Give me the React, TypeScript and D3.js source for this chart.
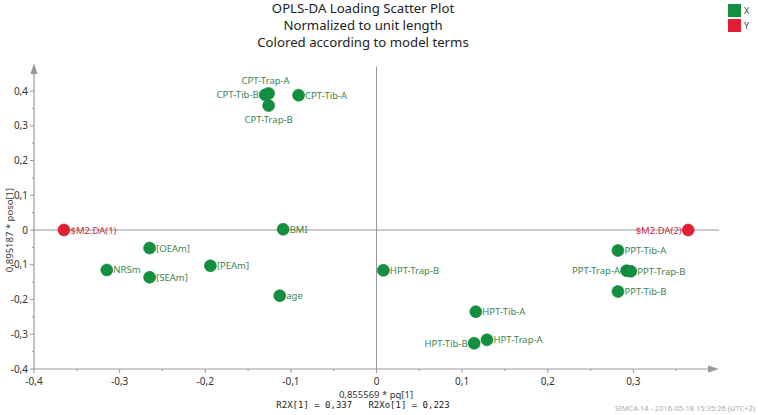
import React from 'react'
import * as d3 from 'd3'

// loading values: p[1] (scaled) and poso[1] (scaled)
const names = [
  '$M2.DA(1)', '$M2.DA(2)', 'BMI', '[OEAm]', 'NRSm', '[SEAm]', '[PEAm]', 'age',
  'HPT-Trap-B', 'PPT-Tib-A', 'PPT-Trap-A', 'PPT-Trap-B', 'PPT-Tib-B',
  'HPT-Tib-A', 'HPT-Trap-A', 'HPT-Tib-B',
  'CPT-Trap-A', 'CPT-Tib-B', 'CPT-Trap-B', 'CPT-Tib-A',
]
const pq = [
  -0.365, 0.364, -0.109, -0.265, -0.315, -0.265, -0.194, -0.113,
  0.008, 0.282, 0.292, 0.297, 0.282,
  0.116, 0.129, 0.114,
  -0.126, -0.130, -0.126, -0.091,
]
const poso = [
  0, 0, 0.002, -0.052, -0.115, -0.136, -0.103, -0.189,
  -0.116, -0.059, -0.117, -0.119, -0.177,
  -0.235, -0.316, -0.326,
  0.393, 0.389, 0.358, 0.388,
]
const terms = [
  'Y', 'Y', 'X', 'X', 'X', 'X', 'X', 'X',
  'X', 'X', 'X', 'X', 'X',
  'X', 'X', 'X',
  'X', 'X', 'X', 'X',
]
const legendTerms = ['X', 'Y']
const xTicks = [-0.4, -0.3, -0.2, -0.1, 0, 0.1, 0.2, 0.3]
const yTicks = [-0.4, -0.3, -0.2, -0.1, 0, 0.1, 0.2, 0.3, 0.4]
const xMinor = [-0.35, -0.25, -0.15, -0.05, 0.05, 0.15, 0.25, 0.35]
const yMinor = [-0.35, -0.25, -0.15, -0.05, 0.05, 0.15, 0.25, 0.35, 0.45]

// where each label sits relative to its point
const leftLabels = ['$M2.DA(2)', 'CPT-Tib-B', 'PPT-Trap-A', 'HPT-Tib-B']
const aboveLabels = ['CPT-Trap-A']
const belowLabels = ['CPT-Trap-B']

const fmt = (v: number) => (v === 0 ? '0' : d3.format('.1f')(v).replace('.', ',').replace('−', '-'))

const App = () => {
  const width = 758
  const height = 415
  const x = d3.scaleLinear().domain([-0.4, 0.4]).range([34, 719])
  const y = d3.scaleLinear().domain([-0.4, 0.4]).range([369, 91])
  const color = d3.scaleOrdinal<string, string>().domain(legendTerms).range(['#13903f', '#e31d34'])
  const textColor = d3.scaleOrdinal<string, string>().domain(legendTerms).range(['#3d8550', '#c9303f'])
  const axisColor = '#999'
  const font = '"Noto Sans", "Open Sans", sans-serif'
  const x0 = x(-0.4)
  const y0 = y(-0.4)
  const yTop = 63

  return (
    <svg width={width} height={height} style={{ position: 'absolute', left: 0, top: 0 }} fontFamily={font}>
      <rect width={width} height={height} fill="#fff" />
      <g textAnchor="middle" fontSize={13.2} fill="#222">
        <text x={363} y={13}>OPLS-DA Loading Scatter Plot</text>
        <text x={363} y={30}>Normalized to unit length</text>
        <text x={363} y={47}>Colored according to model terms</text>
      </g>

      {legendTerms.map((t, i) => (
        <g key={t} transform={`translate(728, ${4 + i * 15})`}>
          <rect width={13} height={13} fill={color(t)} />
          <text x={16} y={10} fontSize={9} fill="#444">{t}</text>
        </g>
      ))}

      {/* zero lines */}
      <line x1={x(0)} x2={x(0)} y1={y(0.47)} y2={y0} stroke={axisColor} strokeWidth={1} />
      <line x1={x0} x2={x(0.4)} y1={y(0)} y2={y(0)} stroke={axisColor} strokeWidth={1} />

      {/* y axis */}
      <line x1={x0} x2={x0} y1={yTop + 8} y2={y0} stroke={axisColor} strokeWidth={1.2} />
      <path d={`M${x0 - 3.5},${yTop + 11}L${x0},${yTop}L${x0 + 3.5},${yTop + 11}Z`} fill={axisColor} />
      {yTicks.map((t) => (
        <g key={t}>
          <line x1={x0 - 4} x2={x0} y1={y(t)} y2={y(t)} stroke={axisColor} />
          <text x={x0 - 6} y={y(t)} dy="0.35em" textAnchor="end" fontSize={10} fill="#333">{fmt(t)}</text>
        </g>
      ))}
      {yMinor.map((t) => (
        <line key={t} x1={x0 - 2} x2={x0} y1={y(t)} y2={y(t)} stroke={axisColor} />
      ))}

      {/* x axis */}
      <line x1={x0} x2={x(0.4) - 8} y1={y0} y2={y0} stroke={axisColor} strokeWidth={1.2} />
      <path d={`M${x(0.4) - 11},${y0 - 3.5}L${x(0.4)},${y0}L${x(0.4) - 11},${y0 + 3.5}Z`} fill={axisColor} />
      {xTicks.map((t) => (
        <g key={t}>
          <line x1={x(t)} x2={x(t)} y1={y0} y2={y0 + 4} stroke={axisColor} />
          <text x={x(t)} y={y0 + 15.5} textAnchor="middle" fontSize={10} fill="#333">{fmt(t)}</text>
        </g>
      ))}
      {xMinor.map((t) => (
        <line key={t} x1={x(t)} x2={x(t)} y1={y0} y2={y0 + 2} stroke={axisColor} />
      ))}

      <text x={376} y={397.5} textAnchor="middle" fontSize={9.5} fill="#333">0,855569 * pq[1]</text>
      <text x={363} y={408} textAnchor="middle" fontSize={9} fontFamily='"DejaVu Sans Mono", monospace' fill="#222" xmlSpace="preserve">
        {'R2X[1] = 0,337   R2Xo[1] = 0,223'}
      </text>
      <text transform={`translate(13, ${y(0)}) rotate(-90)`} textAnchor="middle" fontSize={9.5} fill="#333">
        0,895187 * poso[1]
      </text>
      <text x={755} y={411} textAnchor="end" fontSize={7.5} fill="#aaa">SIMCA 14 - 2016-05-18 15:35:26 (UTC+2)</text>

      {names.map((n, i) => {
        const cx = x(pq[i])
        const cy = y(poso[i])
        let lx = cx + 6.5
        let ly = cy + 3.5
        let anchor = 'start'
        if (leftLabels.includes(n)) {
          lx = cx - 6.5
          anchor = 'end'
        } else if (aboveLabels.includes(n)) {
          lx = cx - 3
          ly = cy - 9
          anchor = 'middle'
        } else if (belowLabels.includes(n)) {
          ly = cy + 17
          anchor = 'middle'
          lx = cx
        }
        return (
          <g key={n}>
            <circle cx={cx} cy={cy} r={6} fill={color(terms[i])} stroke={d3.color(color(terms[i]))!.darker(0.4).toString()} strokeWidth={0.6} />
            <text x={lx} y={ly} textAnchor={anchor} fontSize={9.5} fill={textColor(terms[i])}>{n}</text>
          </g>
        )
      })}
    </svg>
  )
}

export default App
